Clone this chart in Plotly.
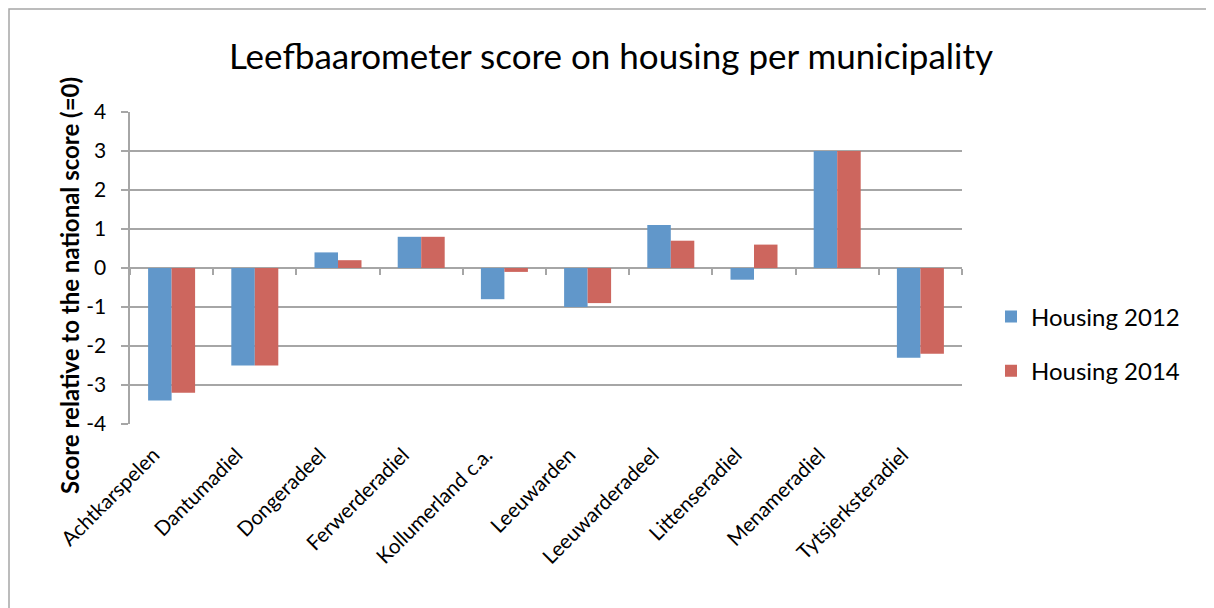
import plotly.graph_objects as go

categories = ["Achtkarspelen", "Dantumadiel", "Dongeradeel", "Ferwerderadiel",
              "Kollumerland c.a.", "Leeuwarden", "Leeuwarderadeel", "Littenseradiel",
              "Menameradiel", "Tytsjerksteradiel"]
housing_2012 = [-3.4, -2.5, 0.4, 0.8, -0.8, -1.0, 1.1, -0.3, 3.0, -2.3]
housing_2014 = [-3.2, -2.5, 0.2, 0.8, -0.1, -0.9, 0.7, 0.6, 3.0, -2.2]
y_ticks = [-4, -3, -2, -1, 0, 1, 2, 3, 4]

FONT = "Lato, 'Open Sans', sans-serif"
GRID = "#A6A6A6"

OFF = 8  # page offset of the figure (body margin)
W, H = 1206, 600
L, T = 130 - OFF, 112 - OFF
pw, ph = 832, 312
R, B = W - L - pw, H - T - ph
n = len(categories)
step = pw / n
LABEL_SHIFT = 18  # px the rotated category labels sit left of the bar centres


def px(xpage):
    return (xpage - OFF - L) / pw


def py(ypage):
    return (H - B - (ypage - OFF)) / ph


fig = go.Figure()
fig.add_trace(go.Bar(x=categories, y=housing_2012, name="Housing 2012",
                     marker=dict(color="#6197CA", line=dict(width=0)),
                     legendgroup="a"))
fig.add_trace(go.Bar(x=categories, y=housing_2014, name="Housing 2014",
                     marker=dict(color="#CD665E", line=dict(width=0)),
                     legendgroup="b"))
# carrier trace for the category-label axis at the bottom
fig.add_trace(go.Scatter(x=categories, y=[None] * n, xaxis="x2", yaxis="y2",
                         showlegend=False, hoverinfo="skip", mode="markers"))

fig.update_layout(
    width=W, height=H,
    margin=dict(l=L, r=R, t=T, b=B, pad=0, autoexpand=False),
    paper_bgcolor="white", plot_bgcolor="rgba(0,0,0,0)",
    barmode="group", bargap=0.435, bargroupgap=0,
    font=dict(family=FONT, color="black"),
    title=dict(text="Leefbaarometer score on housing per municipality",
               x=0.5, xanchor="center", y=1 - (57 - OFF) / H, yanchor="middle",
               font=dict(size=35, family=FONT, color="black")),
    legend=dict(x=px(991), y=py(344), xanchor="left", yanchor="middle",
                font=dict(size=24, family=FONT), tracegroupgap=20,
                bgcolor="rgba(0,0,0,0)"),
    showlegend=True,
    xaxis2=dict(domain=[0, 1 - LABEL_SHIFT / pw],
                range=[-0.5 + LABEL_SHIFT / step, n - 0.5],
                anchor="free", position=0,
                showgrid=False, showline=False, zeroline=False, ticks="",
                tickangle=-45, ticklabelstandoff=14,
                tickfont=dict(size=20.5, family=FONT, color="black"),
                automargin=False, fixedrange=True),
    yaxis2=dict(visible=False, anchor="x2", range=[0, 1], automargin=False),
)

fig.layout.yaxis.update(
    range=[-4, 4], tickvals=y_ticks, ticktext=[str(v) + "\u00a0\u00a0" for v in y_ticks],
    showgrid=True, gridcolor=GRID, gridwidth=1.5,
    showline=True, linecolor=GRID, linewidth=1.5,
    ticks="outside", ticklen=7, tickcolor=GRID, tickwidth=1.5,
    tickfont=dict(size=21, family=FONT, color="black"),
    zeroline=True, zerolinecolor=GRID, zerolinewidth=1.5,
    automargin=False,
)
fig.layout.xaxis.update(
    showgrid=False, showline=False, showticklabels=False,
    ticks="outside", tickson="boundaries", ticklen=6, tickcolor=GRID, tickwidth=1.5,
    anchor="free", position=py(268), automargin=False,
)

# y-axis title (placed as in the reference, slightly below the axis centre)
fig.add_annotation(text="<b>Score relative to the national score (=0)</b>",
                   textangle=-90, xref="paper", yref="paper",
                   x=px(69), y=py(286),
                   xanchor="center", yanchor="middle", showarrow=False,
                   font=dict(size=24, family=FONT, color="black"))

# outer chart border (left and top edges visible)
fig.add_shape(type="rect", xref="paper", yref="paper",
              x0=px(9), x1=px(1300),
              y0=py(700), y1=py(9),
              line=dict(color="#A6A6A6", width=1.5), fillcolor="rgba(0,0,0,0)", layer="below")

fig.write_html("out.html")
